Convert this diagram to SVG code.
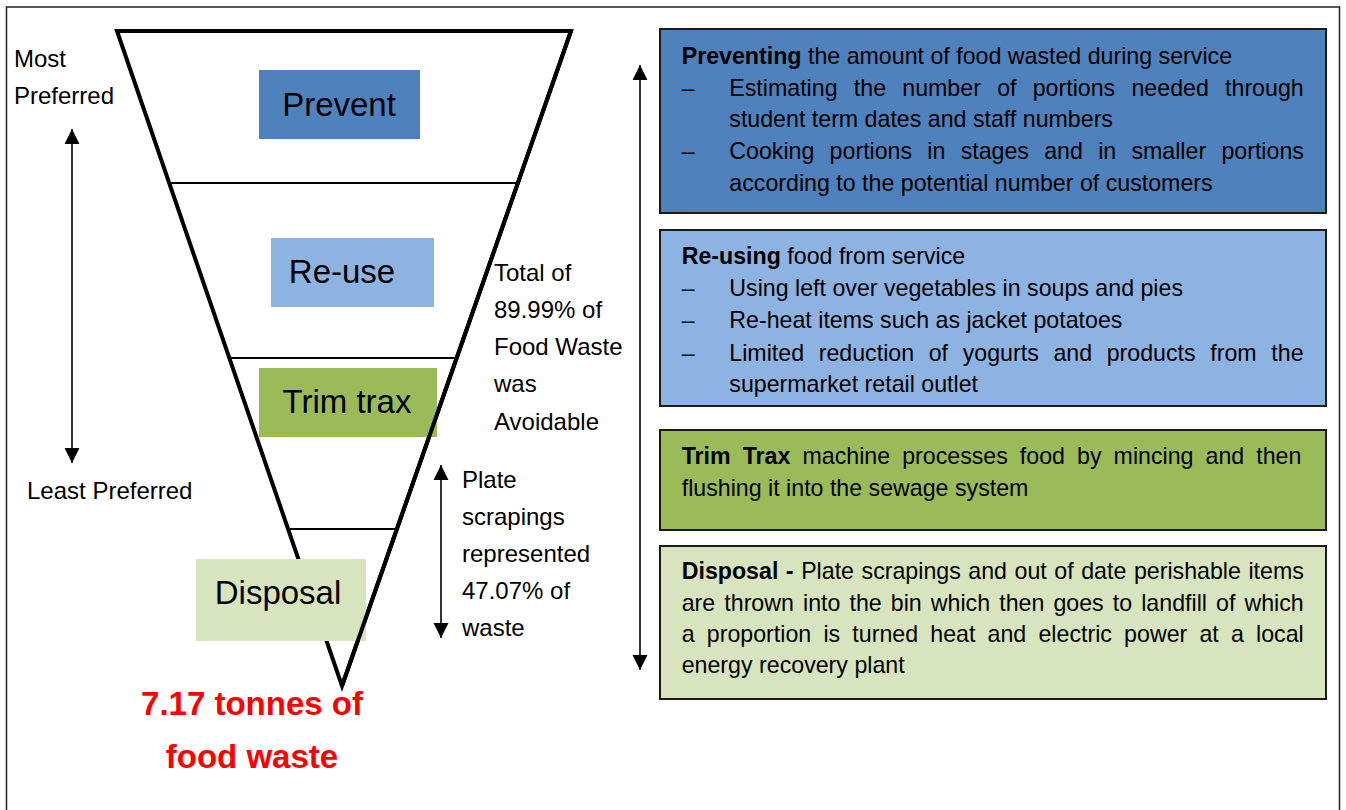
<svg xmlns="http://www.w3.org/2000/svg" width="1346" height="810" viewBox="0 0 1346 810">
<defs>
<style>
text{font-family:"Liberation Sans",Arial,sans-serif;fill:#000}
.lbl{font-size:24px}
.big{font-size:33px}
.pt{font-size:23.2px}
.b{font-weight:bold}
.red{fill:#ff0000;font-weight:bold;font-size:33px}
.thick{stroke:#000;stroke-width:4;fill:none;stroke-linejoin:miter}
.thin{stroke:#000;stroke-width:2;fill:none}
.panel{stroke:#1a1a1a;stroke-width:2}
.arr{stroke:#000;stroke-width:1.6;fill:none;marker-start:url(#ah);marker-end:url(#ah)}
</style>
<marker id="ah" markerUnits="userSpaceOnUse" markerWidth="16" markerHeight="16" refX="15" refY="8" orient="auto-start-reverse">
<path d="M0,0.5 L15,8 L0,15.5 z" fill="#000"/>
</marker>
</defs>
<rect x="0" y="0" width="1346" height="810" fill="#fff"/>
<rect x="6.5" y="7" width="1333" height="810" fill="none" stroke="#222" stroke-width="1.5"/>

<g id="funnel">
<polygon class="thick" points="117,31 571,31 342,686"/>
<line class="thin" x1="170" y1="183" x2="518" y2="183"/>
<line class="thin" x1="230" y1="358" x2="457" y2="358"/>
<line class="thin" x1="289" y1="529" x2="397" y2="529"/>
</g>

<g id="prevent">
<rect x="259" y="70" width="161" height="69" fill="#4f81bd"/>
<text class="big" x="339" y="116" text-anchor="middle">Prevent</text>
</g>
<g id="reuse">
<rect x="271" y="238" width="163" height="69" fill="#8db3e2"/>
<text class="big" x="342" y="283" text-anchor="middle">Re-use</text>
</g>
<g id="trimtrax">
<rect x="259" y="368" width="178" height="69" fill="#9bbb59"/>
<text class="big" x="347" y="413" text-anchor="middle">Trim trax</text>
</g>
<g id="disposal">
<rect x="196" y="559" width="170" height="82" fill="#d7e4bd"/>
<text class="big" x="278" y="604" text-anchor="middle">Disposal</text>
</g>
<line class="thick" x1="571" y1="31" x2="342" y2="686"/>

<g id="labels">
<text class="lbl" x="14" y="67">Most</text>
<text class="lbl" x="14" y="104">Preferred</text>
<text class="lbl" x="27" y="499">Least Preferred</text>
<text class="lbl" x="494" y="281">Total of</text>
<text class="lbl" x="494" y="318">89.99% of</text>
<text class="lbl" x="494" y="355">Food Waste</text>
<text class="lbl" x="494" y="392">was</text>
<text class="lbl" x="494" y="430">Avoidable</text>
<text class="lbl" x="462" y="488">Plate</text>
<text class="lbl" x="462" y="525">scrapings</text>
<text class="lbl" x="462" y="562">represented</text>
<text class="lbl" x="462" y="599">47.07% of</text>
<text class="lbl" x="462" y="636">waste</text>
<text class="red" x="252" y="715" text-anchor="middle">7.17 tonnes of</text>
<text class="red" x="252" y="768" text-anchor="middle">food waste</text>
</g>

<g id="connectors">
<line class="arr" x1="72" y1="129" x2="72" y2="463"/>
<line class="arr" x1="441" y1="465" x2="441" y2="638"/>
<line class="arr" x1="640" y1="65" x2="640" y2="670"/>
</g>

<g id="panel-prevent">
<rect class="panel" x="660" y="29" width="666" height="184" fill="#4f81bd"/>
<text class="pt" y="64"><tspan x="681.7" class="b">Preventing</tspan> the amount of food wasted during service</text>
<text class="pt" x="681.7" y="96">–</text>
<text class="pt" x="729.3" y="96" style="word-spacing:9.8px">Estimating the number of portions needed through</text>
<text class="pt" x="729.3" y="127">student term dates and staff numbers</text>
<text class="pt" x="681.7" y="159">–</text>
<text class="pt" x="729.3" y="159" style="word-spacing:8.8px">Cooking portions in stages and in smaller portions</text>
<text class="pt" x="729.3" y="191">according to the potential number of customers</text>
</g>

<g id="panel-reuse">
<rect class="panel" x="660" y="230" width="666" height="176" fill="#8db3e2"/>
<text class="pt" y="264"><tspan x="681.7" class="b">Re-using</tspan> food from service</text>
<text class="pt" x="681.7" y="296">–</text>
<text class="pt" x="729.3" y="296">Using left over vegetables in soups and pies</text>
<text class="pt" x="681.7" y="328">–</text>
<text class="pt" x="729.3" y="328">Re-heat items such as jacket potatoes</text>
<text class="pt" x="681.7" y="361">–</text>
<text class="pt" x="729.3" y="361" style="word-spacing:8.2px">Limited reduction of yogurts and products from the</text>
<text class="pt" x="729.3" y="392">supermarket retail outlet</text>
</g>

<g id="panel-trimtrax">
<rect class="panel" x="660" y="430" width="666" height="100" fill="#9bbb59"/>
<text class="pt" x="681.7" y="464" style="word-spacing:5.6px"><tspan class="b">Trim Trax</tspan> machine processes food by mincing and then</text>
<text class="pt" x="681.7" y="496">flushing it into the sewage system</text>
</g>

<g id="panel-disposal">
<rect class="panel" x="660" y="546" width="666" height="153" fill="#d7e4bd"/>
<text class="pt" x="681.7" y="579" style="word-spacing:1.1px"><tspan class="b">Disposal -</tspan> Plate scrapings and out of date perishable items</text>
<text class="pt" x="681.7" y="611" style="word-spacing:2.65px">are thrown into the bin which then goes to landfill of which</text>
<text class="pt" x="681.7" y="642" style="word-spacing:5.75px">a proportion is turned heat and electric power at a local</text>
<text class="pt" x="681.7" y="673">energy recovery plant</text>
</g>
</svg>
